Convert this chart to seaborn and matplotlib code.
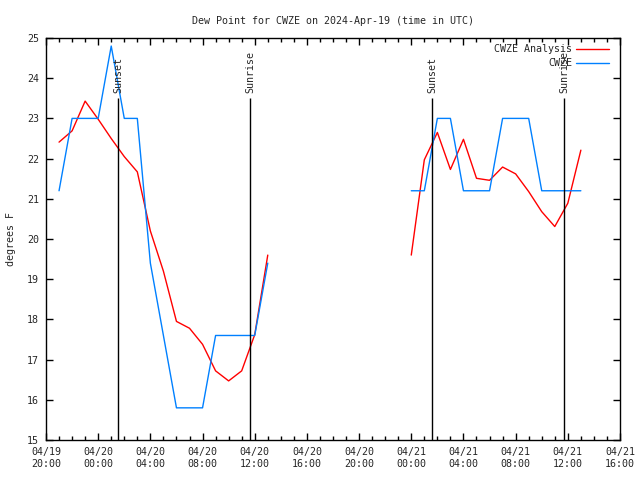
import pandas as pd
import numpy as np
import matplotlib
matplotlib.use('Agg')
import matplotlib.pyplot as plt
import matplotlib.dates as mdates
import seaborn as sns

# hourly values, degrees F
analysis_day1 = [22.41, 22.69, 23.43, 22.98, 22.50, 22.05, 21.67, 20.20, 19.20,
                 17.95, 17.78, 17.38, 16.72, 16.47, 16.72, 17.62, 19.60]
obs_day1 = [21.2, 23.0, 23.0, 23.0, 24.8, 23.0, 23.0, 19.4, 17.6,
            15.8, 15.8, 15.8, 17.6, 17.6, 17.6, 17.6, 19.4]
analysis_day2 = [19.60, 21.97, 22.65, 21.73, 22.48, 21.51, 21.46, 21.79,
                 21.62, 21.18, 20.68, 20.31, 20.89, 22.21]
obs_day2 = [21.2, 21.2, 23.0, 23.0, 21.2, 21.2, 21.2, 23.0,
            23.0, 23.0, 21.2, 21.2, 21.2, 21.2]
times_day1 = pd.date_range('2024-04-19 21:00', '2024-04-20 13:00', freq='h')
times_day2 = pd.date_range('2024-04-21 00:00', '2024-04-21 13:00', freq='h')

sun_times = ['2024-04-20 01:32', '2024-04-20 11:39', '2024-04-21 01:36', '2024-04-21 11:43']
sun_labels = ['Sunset', 'Sunrise', 'Sunset', 'Sunrise']

frames = []
for seg, (t, a, o) in enumerate([(times_day1, analysis_day1, obs_day1),
                                  (times_day2, analysis_day2, obs_day2)]):
    frames.append(pd.DataFrame({'time': t, 'value': a, 'series': 'CWZE Analysis', 'segment': seg}))
    frames.append(pd.DataFrame({'time': t, 'value': o, 'series': 'CWZE', 'segment': seg}))
df = pd.concat(frames, ignore_index=True)

sns.set_style('ticks')
plt.rcParams['font.family'] = ['DejaVu Sans Mono']
plt.rcParams['font.size'] = 7.2

fig = plt.figure(figsize=(6.4, 4.8), dpi=100)
ax = fig.add_axes([46 / 640, 40 / 480, 574 / 640, 402 / 480])

colors = {'CWZE Analysis': '#ff0000', 'CWZE': '#0080ff'}
sns.lineplot(data=df, x='time', y='value', hue='series', units='segment',
             estimator=None, palette=colors, linewidth=1.0, ax=ax)

for t, lab in zip(sun_times, sun_labels):
    ts = pd.Timestamp(t)
    ax.vlines(ts, 15, 23.51, color='black', linewidth=1.0)
    ax.text(ts, 23.63, lab, rotation=90, ha='center', va='bottom', fontsize=7.2)

ax.set_xlim(pd.Timestamp('2024-04-19 20:00'), pd.Timestamp('2024-04-21 16:00'))
ax.set_ylim(15, 25)
ax.set_yticks(range(15, 26))
ax.xaxis.set_major_locator(mdates.HourLocator(byhour=range(0, 24, 4)))
ax.xaxis.set_minor_locator(mdates.HourLocator())
ax.xaxis.set_major_formatter(mdates.DateFormatter('%m/%d\n%H:%M'))

ax.tick_params(which='both', direction='in', top=True, right=True, color='black')
ax.tick_params(which='major', length=5, width=1, pad=5)
ax.tick_params(which='minor', length=3, width=1)
for s in ax.spines.values():
    s.set_color('black')
    s.set_linewidth(1.0)

ax.set_xlabel('')
ax.set_ylabel('degrees F', labelpad=8)
ax.set_title('Dew Point for CWZE on 2024-Apr-19 (time in UTC)', fontsize=7.2, pad=10)

handles, labels = ax.get_legend_handles_labels()
ax.legend(handles, labels, loc='upper right', bbox_to_anchor=(1 - 5 / 574, 1),
          frameon=False, markerfirst=False,
          handlelength=3.3, handletextpad=0.4, labelspacing=0.4,
          borderaxespad=0.2, fontsize=7.2)

plt.savefig('out.png', dpi=100)
